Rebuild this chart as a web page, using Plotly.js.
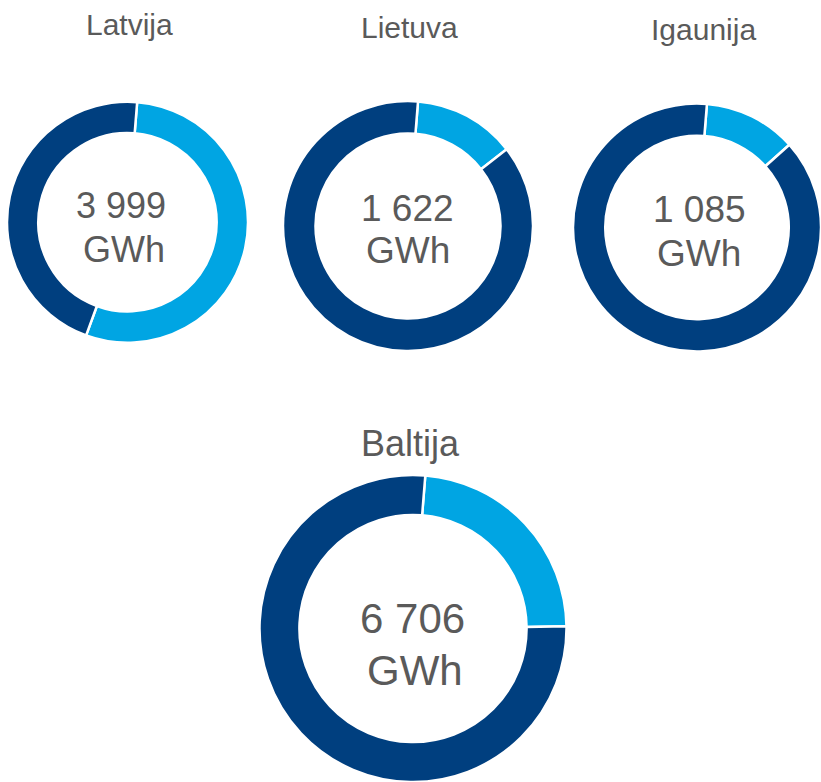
<!DOCTYPE html>
<html>
<head>
<meta charset="utf-8">
<script src="https://cdn.plot.ly/plotly-3.0.1.min.js"></script>
<style>
  html, body { margin: 0; padding: 0; background: #ffffff; overflow: hidden; }
  #chart { width: 821px; height: 782px; }
</style>
</head>
<body>
<div id="chart"></div>
<script>
// Data (shares in %)
const regions = ["Latvija", "Lietuva", "Igaunija", "Baltija"];
const totalsLabel = ["3 999", "1 622", "1 085", "6 706"];
const unitLabel = "GWh";
const sliceNames = ["Daļa A", "Daļa B"];
const lightShare = [54.3, 13.2, 12.1, 23.5];
const darkShare = [45.7, 86.8, 87.9, 76.5];

const W = 821, H = 782;
const px = v => v / W;
const py = v => (H - v) / H;

const colorLight = "#00a5e3";
const colorDark = "#003f7f";
const textColor = "#5a5a5a";
const fontFam = "'Liberation Sans', Arimo, Arial, sans-serif";

// layout boxes (pixels): [x0, x1, yTop, yBottom]
const boxes = [
  [7, 248, 101.5, 343],
  [283, 533, 101, 351],
  [573, 821, 103.5, 351.5],
  [258, 568, 475, 782]
];

const traces = regions.map((r, i) => ({
  type: "pie",
  name: r,
  labels: sliceNames,
  values: [lightShare[i], darkShare[i]],
  sort: false,
  direction: "clockwise",
  rotation: 4.6,
  hole: 0.74,
  textinfo: "none",
  hoverinfo: "label+value",
  marker: { colors: [colorLight, colorDark], line: { color: "#ffffff", width: 2.5 } },
  domain: {
    x: [px(boxes[i][0]), px(boxes[i][1])],
    y: [Math.max(0, py(boxes[i][3])), py(boxes[i][2])]
  },
  showlegend: false
}));

// annotation positions (pixels): title center & font, center text lines
const titlePos = [[129.5, 24.5, 30], [409, 27.5, 30], [703, 29.2, 30], [410, 443.3, 36]];
const line1Pos = [[121.5, 205.8, 36], [407.7, 208.3, 37], [699, 210, 37], [412.5, 618.7, 42]];
const line2Pos = [[124, 249.5, 36], [407.5, 250.8, 37], [699, 253.7, 37], [414.7, 670, 42]];

const ann = [];
regions.forEach((r, i) => {
  ann.push({ text: r, x: px(titlePos[i][0]), y: py(titlePos[i][1]), xref: "paper", yref: "paper",
    xanchor: "center", yanchor: "middle", showarrow: false,
    font: { family: fontFam, size: titlePos[i][2], color: textColor } });
  ann.push({ text: totalsLabel[i], x: px(line1Pos[i][0]), y: py(line1Pos[i][1]), xref: "paper", yref: "paper",
    xanchor: "center", yanchor: "middle", showarrow: false,
    font: { family: fontFam, size: line1Pos[i][2], color: textColor } });
  ann.push({ text: unitLabel, x: px(line2Pos[i][0]), y: py(line2Pos[i][1]), xref: "paper", yref: "paper",
    xanchor: "center", yanchor: "middle", showarrow: false,
    font: { family: fontFam, size: line2Pos[i][2], color: textColor } });
});

const layout = {
  width: W,
  height: H,
  margin: { l: 0, r: 0, t: 0, b: 0, pad: 0 },
  paper_bgcolor: "#ffffff",
  plot_bgcolor: "#ffffff",
  showlegend: false,
  annotations: ann,
  font: { family: fontFam, color: textColor }
};

Plotly.newPlot("chart", traces, layout, { displayModeBar: false, staticPlot: true });
</script>
</body>
</html>
